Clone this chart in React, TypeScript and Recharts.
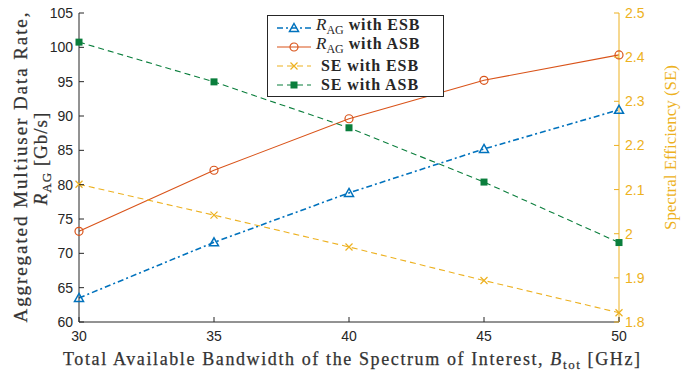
import { LineChart, Line, XAxis, YAxis } from 'recharts';

const bandwidth = [30, 35, 40, 45, 50];
const rateEsb = [63.5, 71.6, 78.8, 85.2, 90.9];
const rateAsb = [73.2, 82.1, 89.6, 95.2, 98.9];
const seEsb = [2.112, 2.042, 1.97, 1.894, 1.821];
const seAsb = [2.434, 2.344, 2.24, 2.117, 1.98];

const xTicks = [30, 35, 40, 45, 50];
const leftTicks = [60, 65, 70, 75, 80, 85, 90, 95, 100, 105];
const rightTicks = [1.8, 1.9, 2.0, 2.1, 2.2, 2.3, 2.4, 2.5];

const data = bandwidth.map((bw, i) => ({
  bw,
  rateEsb: rateEsb[i],
  rateAsb: rateAsb[i],
  seEsb: seEsb[i],
  seAsb: seAsb[i],
}));

const BLUE = '#0072BD';
const RED = '#D95319';
const YELLOW = '#EDB120';
const GREEN = '#0A7E3C';
const INK = '#262626';
const LABEL = '#333';
const SANS = '"Liberation Sans", Arial, sans-serif';
const SERIF = '"Liberation Serif", serif';

type Mk = 'tri' | 'circle' | 'cross' | 'square';

const marker = (kind: Mk, color: string, cx: number, cy: number, key?: any) => {
  if (kind === 'tri')
    return <path key={key} d={`M${cx},${cy - 4.5}L${cx + 4.5},${cy + 3.5}L${cx - 4.5},${cy + 3.5}Z`} fill="none" stroke={color} strokeWidth={1.5} />;
  if (kind === 'circle')
    return <circle key={key} cx={cx} cy={cy} r={4} fill="none" stroke={color} strokeWidth={1.2} />;
  if (kind === 'cross')
    return <path key={key} d={`M${cx - 3.5},${cy - 3.5}L${cx + 3.5},${cy + 3.5}M${cx - 3.5},${cy + 3.5}L${cx + 3.5},${cy - 3.5}`} stroke={color} strokeWidth={1.2} />;
  return <rect key={key} x={cx - 3.5} y={cy - 3.5} width={7} height={7} fill={color} />;
};

const dotOf = (kind: Mk, color: string) => (p: any) => marker(kind, color, p.cx, p.cy, p.index);

const series = [
  { key: 'rateEsb', axis: 'left', color: BLUE, dash: '6 3 2 3', mk: 'tri' as Mk, width: 1.6, name: 'rate', tail: 'with ESB' },
  { key: 'rateAsb', axis: 'left', color: RED, dash: undefined, mk: 'circle' as Mk, width: 1.1, name: 'rate', tail: 'with ASB' },
  { key: 'seEsb', axis: 'right', color: YELLOW, dash: '6 4', mk: 'cross' as Mk, width: 1.1, name: 'SE', tail: 'with ESB' },
  { key: 'seAsb', axis: 'right', color: GREEN, dash: '6 4', mk: 'square' as Mk, width: 1.1, name: 'SE', tail: 'with ASB' },
];

const fmtRight = (v: number) => String(+v.toFixed(1));

const LeftTick = (p: any) => (
  <g>
    <line x1={p.x + 6} y1={p.y} x2={p.x + 11} y2={p.y} stroke={INK} />
    <text x={p.x} y={p.y} dy={5} textAnchor="end" fontFamily={SANS} fontSize={14} fill={INK}>{p.payload.value}</text>
  </g>
);

const RightTick = (p: any) => (
  <g>
    <line x1={p.x - 6} y1={p.y} x2={p.x - 11} y2={p.y} stroke={YELLOW} />
    <text x={p.x} y={p.y} dy={5} textAnchor="start" fontFamily={SANS} fontSize={14} fill={YELLOW}>{fmtRight(p.payload.value)}</text>
  </g>
);

const BottomTick = (p: any) => (
  <g>
    <line x1={p.x} y1={p.y - 6} x2={p.x} y2={p.y - 11} stroke={INK} />
    <text x={p.x} y={p.y} dy={13} textAnchor="middle" fontFamily={SANS} fontSize={14} fill={INK}>{p.payload.value}</text>
  </g>
);

const TopTick = (p: any) => (
  <line x1={p.x} y1={p.y} x2={p.x} y2={p.y + 5} stroke={INK} />
);

const LegendBox = () => (
  <div style={{ position: 'absolute', left: 267, top: 15, width: 177, height: 82, border: `1px solid ${INK}`, background: '#fff', boxSizing: 'border-box', padding: '2px 0 0 8px', fontFamily: SERIF, color: INK }}>
    {series.map(s => (
      <div key={s.key} style={{ display: 'flex', alignItems: 'center', height: 19 }}>
        <svg width={36} height={16} style={{ flex: 'none' }}>
          <line x1={1} y1={8} x2={35} y2={8} stroke={s.color} strokeWidth={s.width} strokeDasharray={s.dash} />
          {marker(s.mk, s.color, 18, 8)}
        </svg>
        <span style={{ marginLeft: s.name === 'SE' ? 9 : 4, fontSize: 16, whiteSpace: 'nowrap', lineHeight: '16px', letterSpacing: 0.9 }}>
          {s.name === 'rate' ? (
            <><i style={{ fontSize: 17, letterSpacing: 0 }}>R</i><sub style={{ fontSize: 12, letterSpacing: 0 }}>AG</sub> </>
          ) : (
            <b>SE </b>
          )}
          <b>{s.tail}</b>
        </span>
      </div>
    ))}
  </div>
);

const LeftLabel = (p: any) => {
  const cy = p.viewBox.y + p.viewBox.height / 2;
  return (
    <g fontFamily={SERIF} fontSize={19} fill={LABEL} stroke={LABEL} strokeWidth={0.25}>
      <text transform={`translate(27, ${cy}) rotate(-90)`} textAnchor="middle" textLength={310} lengthAdjust="spacing">
        Aggregated Multiuser Data Rate,
      </text>
      <text transform={`translate(47, ${cy - 9}) rotate(-90)`} textAnchor="middle" letterSpacing={1}>
        <tspan fontStyle="italic">R</tspan>
        <tspan fontSize={13} dy={4}>AG</tspan>
        <tspan dy={-4}> [Gb/s]</tspan>
      </text>
    </g>
  );
};

const RightLabel = (p: any) => {
  const cy = p.viewBox.y + p.viewBox.height / 2 - 20;
  return (
    <text transform={`translate(676, ${cy}) rotate(-90)`} textAnchor="middle" fontFamily={SERIF} fontSize={16.5}
      fill={YELLOW} textLength={165} lengthAdjust="spacingAndGlyphs">
      Spectral Efficiency (SE)
    </text>
  );
};

const BottomLabel = () => (
  <text x={63} y={365} fontFamily={SERIF} fontSize={18} fill={LABEL} stroke={LABEL} strokeWidth={0.25}
    textLength={577} lengthAdjust="spacing">
    Total Available Bandwidth of the Spectrum of Interest, <tspan fontStyle="italic">B</tspan>
    <tspan fontSize={13} dy={4}>tot</tspan>
    <tspan dy={-4}> [GHz]</tspan>
  </text>
);

export default function App() {
  return (
    <div style={{ position: 'absolute', left: 0, top: 0, width: 683, height: 373, background: '#fff' }}>
      <LineChart width={683} height={373} data={data} margin={{ top: 13, right: 0, bottom: 0, left: 0 }}>
        <XAxis xAxisId="bottom" dataKey="bw" type="number" domain={[30, 50]} ticks={xTicks}
          orientation="bottom" height={51} stroke={INK} tickLine={false} tickSize={0} tickMargin={6}
          tick={<BottomTick />} label={{ content: BottomLabel }} />
        <XAxis xAxisId="top" dataKey="bw" type="number" domain={[30, 50]} ticks={xTicks}
          orientation="top" height={0} stroke={INK} tickLine={false} tickSize={0} tickMargin={0}
          tick={<TopTick />} />
        <YAxis yAxisId="left" domain={[60, 105]} ticks={leftTicks} width={79} stroke={INK}
          tickLine={false} tickSize={0} tickMargin={6} tick={<LeftTick />} label={{ content: LeftLabel }} />
        <YAxis yAxisId="right" orientation="right" domain={[1.8, 2.5]} ticks={rightTicks} width={64} stroke={YELLOW}
          tickLine={false} tickSize={0} tickMargin={6} tick={<RightTick />} label={{ content: RightLabel }} />
        {series.map(s => (
          <Line key={s.key} xAxisId="bottom" yAxisId={s.axis} dataKey={s.key} stroke={s.color}
            strokeWidth={s.width} strokeDasharray={s.dash} dot={dotOf(s.mk, s.color)}
            activeDot={false} isAnimationActive={false} />
        ))}
      </LineChart>
      <LegendBox />
    </div>
  );
}
